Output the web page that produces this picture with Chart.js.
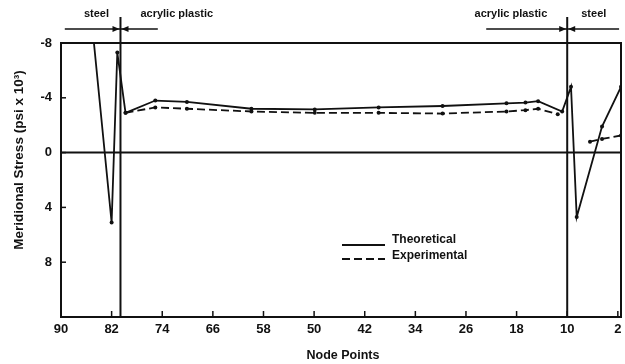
<!DOCTYPE html>
<html>
<head>
<meta charset="utf-8">
<script src="https://cdn.jsdelivr.net/npm/chart.js@4.4.0/dist/chart.umd.min.js"></script>
<style>
  html, body { margin: 0; padding: 0; background: #fff; }
  #wrap { width: 625px; height: 364px; }
</style>
</head>
<body>
<div id="wrap"><canvas id="stress" width="625" height="364"></canvas></div>
<script>
// node numbers run from 90 (left) down to 2 (right)
const xTicks = [90, 82, 74, 66, 58, 50, 42, 34, 26, 18, 10, 2];
const yTicks = [-8, -4, 0, 4, 8];

// theoretical meridional stress (psi x 1000), negative = up
const theoNodes  = [85.5, 82.0, 81.1, 79.8, 75.1, 70.1, 59.9, 49.9, 39.8, 29.7, 19.6, 16.6, 14.6, 10.8, 9.4, 8.5, 4.5, 1.5];
const theoStress = [-11.3, 5.1, -7.3, -2.9, -3.8, -3.7, -3.2, -3.15, -3.3, -3.4, -3.6, -3.65, -3.75, -3.0, -4.8, 4.7, -1.9, -4.8];

// measured values, no gauges across the right joint
const expNodes  = [79.8, 75.1, 70.1, 59.9, 49.9, 39.8, 29.7, 19.6, 16.6, 14.6, 11.5, 8.0, 6.4, 4.5, 1.5];
const expStress = [-2.9, -3.3, -3.2, -3.0, -2.9, -2.9, -2.85, -3.0, -3.1, -3.2, -2.8, null, -0.8, -1.0, -1.25];

// steel / acrylic joints and the material labels above the plot
const jointNodes = [80.6, 10.0];
const materialNames = ['steel', 'acrylic plastic', 'acrylic plastic', 'steel'];
const materialAt = [84.4, 71.7, 18.9, 5.8];
const spanEnds = [[89.4, 74.7], [22.8, 1.8]];

const FONT = "'Liberation Sans', Arial, sans-serif";
Chart.defaults.font.family = FONT;
Chart.defaults.color = '#111';

function toPoints(xs, ys) {
  return xs.map((n, i) => ({ x: n, y: ys[i] }));
}

function seg(ctx, x1, y1, x2, y2) {
  ctx.beginPath();
  ctx.moveTo(x1, y1);
  ctx.lineTo(x2, y2);
  ctx.stroke();
}

function head(ctx, tipX, y, dir) {
  ctx.beginPath();
  ctx.moveTo(tipX, y);
  ctx.lineTo(tipX - dir * 7, y - 3);
  ctx.lineTo(tipX - dir * 7, y + 3);
  ctx.closePath();
  ctx.fill();
}

const frame = {
  id: 'frame',
  beforeDatasetsDraw(chart) {
    const { ctx, chartArea: a, scales: { x, y } } = chart;
    ctx.save();
    ctx.strokeStyle = '#111';
    ctx.fillStyle = '#111';
    ctx.lineWidth = 2;
    ctx.strokeRect(a.left, a.top, a.right - a.left, a.bottom - a.top);

    const y0 = y.getPixelForValue(0);
    seg(ctx, a.left, y0, a.right, y0);

    // short inward ticks
    ctx.lineWidth = 1.5;
    xTicks.forEach(v => {
      const px = x.getPixelForValue(v);
      seg(ctx, px, a.bottom, px, a.bottom - 6);
    });
    yTicks.forEach(v => {
      const py = y.getPixelForValue(v);
      seg(ctx, a.left, py, a.left + 5, py);
    });

    // joints between steel and acrylic
    ctx.lineWidth = 2;
    jointNodes.forEach(n => {
      const px = x.getPixelForValue(n);
      seg(ctx, px, 17, px, a.bottom);
    });

    // extent arrows pointing at each joint
    const ay = 29;
    ctx.lineWidth = 1.5;
    spanEnds.forEach((s, i) => {
      const x1 = x.getPixelForValue(s[0]);
      const x2 = x.getPixelForValue(s[1]);
      const j = x.getPixelForValue(jointNodes[i]);
      seg(ctx, x1, ay, x2, ay);
      head(ctx, j - 1, ay, 1);
      head(ctx, j + 1, ay, -1);
    });

    ctx.font = 'bold 11px ' + FONT;
    ctx.textAlign = 'center';
    ctx.textBaseline = 'middle';
    materialNames.forEach((t, i) => {
      ctx.fillText(t, x.getPixelForValue(materialAt[i]), 14);
    });
    ctx.restore();
  },
  afterDraw(chart) {
    const { ctx } = chart;
    ctx.save();
    ctx.fillStyle = '#111';
    ctx.strokeStyle = '#111';
    ctx.font = 'bold 12px ' + FONT;
    ctx.textBaseline = 'middle';

    // legend
    ctx.lineWidth = 1.8;
    seg(ctx, 342, 245, 385, 245);
    ctx.setLineDash([8, 4]);
    seg(ctx, 342, 259, 385, 259);
    ctx.setLineDash([]);
    ctx.textAlign = 'left';
    ctx.fillText('Theoretical', 392, 240);
    ctx.fillText('Experimental', 392, 256);

    // axis titles
    ctx.textAlign = 'center';
    ctx.font = 'bold 12.5px ' + FONT;
    ctx.fillText('Node Points', 343, 356);
    ctx.font = 'bold 13.5px ' + FONT;
    ctx.translate(19, 160);
    ctx.rotate(-Math.PI / 2);
    ctx.fillText('Meridional Stress (psi x 10\u00B3)', 0, 0);
    ctx.restore();
  }
};

new Chart(document.getElementById('stress'), {
  type: 'line',
  data: {
    datasets: [{
      label: 'Theoretical',
      data: toPoints(theoNodes, theoStress),
      borderColor: '#111',
      backgroundColor: '#111',
      borderWidth: 1.8,
      pointRadius: 2,
      pointBorderWidth: 0,
      tension: 0,
      fill: false
    }, {
      label: 'Experimental',
      data: toPoints(expNodes, expStress),
      borderColor: '#111',
      backgroundColor: '#111',
      borderWidth: 1.8,
      borderDash: [8, 4],
      pointRadius: 2,
      pointBorderWidth: 0,
      tension: 0,
      spanGaps: false,
      fill: false
    }]
  },
  options: {
    responsive: false,
    animation: false,
    layout: { padding: { left: 0, right: 3, top: 43, bottom: 0 } },
    plugins: {
      legend: { display: false },
      tooltip: { enabled: false }
    },
    scales: {
      x: {
        type: 'linear',
        reverse: true,
        min: 1.5,
        max: 90,
        afterBuildTicks: s => { s.ticks = xTicks.map(v => ({ value: v })); },
        afterFit: s => {
          s.height = 47;
          // let the "2" label run off the edge instead of shrinking the plot
          s.paddingLeft = 0;
          s.paddingRight = 0;
        },
        grid: { display: false, drawTicks: false },
        border: { display: false },
        ticks: {
          padding: 5,
          maxRotation: 0,
          autoSkip: false,
          font: { size: 13, weight: 'bold' },
          color: '#111',
          callback: v => String(v)
        }
      },
      y: {
        type: 'linear',
        reverse: true,
        min: -8,
        max: 12,
        afterBuildTicks: s => { s.ticks = yTicks.map(v => ({ value: v })); },
        afterFit: s => { s.width = 61; },
        grid: { display: false, drawTicks: false },
        border: { display: false },
        ticks: {
          padding: 9,
          font: { size: 13, weight: 'bold' },
          color: '#111',
          callback: v => String(v)
        }
      }
    }
  },
  plugins: [frame]
});
</script>
</body>
</html>
